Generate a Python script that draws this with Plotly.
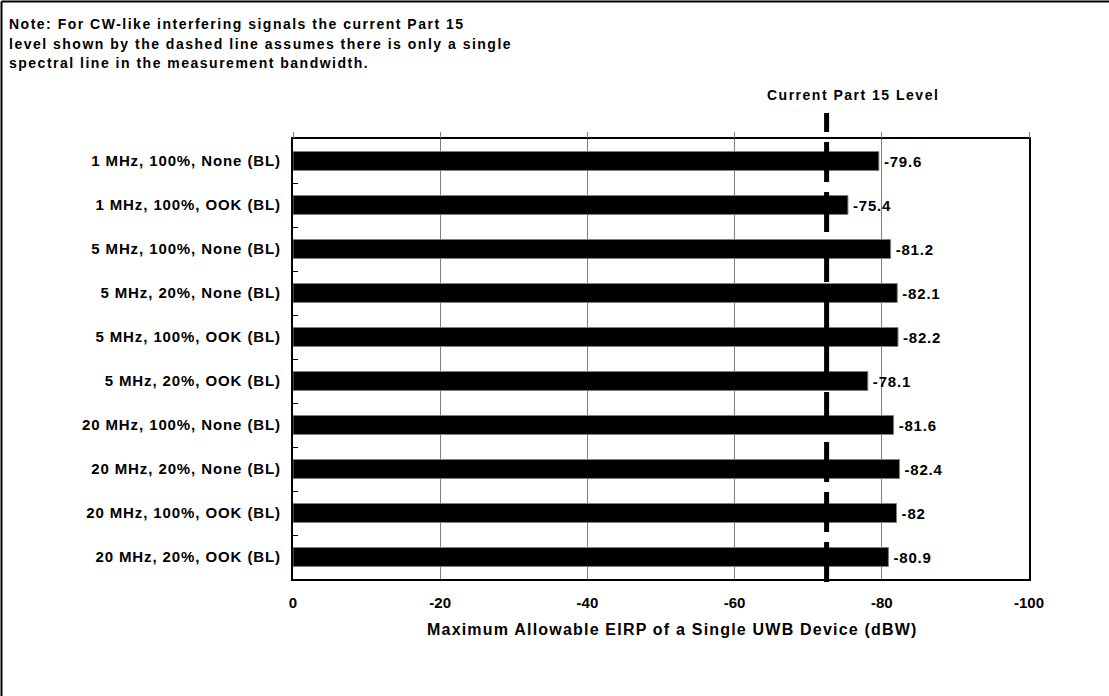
import plotly.graph_objects as go

# ---------------- data ----------------
CATEGORIES = [
    "1 MHz, 100%, None (BL)",
    "1 MHz, 100%, OOK (BL)",
    "5 MHz, 100%, None (BL)",
    "5 MHz, 20%, None (BL)",
    "5 MHz, 100%, OOK (BL)",
    "5 MHz, 20%, OOK (BL)",
    "20 MHz, 100%, None (BL)",
    "20 MHz, 20%, None (BL)",
    "20 MHz, 100%, OOK (BL)",
    "20 MHz, 20%, OOK (BL)",
]
VALUES = [-79.6, -75.4, -81.2, -82.1, -82.2, -78.1, -81.6, -82.4, -82.0, -80.9]
VALUE_LABELS = ["-79.6", "-75.4", "-81.2", "-82.1", "-82.2", "-78.1", "-81.6", "-82.4", "-82", "-80.9"]
PART15_LEVEL = -72.5
X_TICKS = [0, -20, -40, -60, -80, -100]
X_TICK_LABELS = ["0", "-20", "-40", "-60", "-80", "-100"]
X_TITLE = "Maximum Allowable EIRP of a Single UWB Device (dBW)"
PART15_LABEL = "Current Part 15 Level"
NOTE_LINES = [
    "Note: For CW-like interfering signals the current Part 15",
    "level shown by the dashed line assumes there is only a single",
    "spectral line in the measurement bandwidth.",
]

FONT = "Liberation Sans, Arial, Helvetica, sans-serif"


def spaced(s, px):
    return f'<span style="letter-spacing:{px}px">{s}</span>'


# plot area in pixels (for placing free text)
L, R, T, B = 293, 1029, 139, 579
W, H = 1109, 696


def px_x(x):
    return (x - L) / (R - L)


def px_y(y):
    return (B - y) / (B - T)


fig = go.Figure()
fig.add_trace(go.Bar(
    y=CATEGORIES, x=VALUES, orientation="h", width=0.43,
    marker=dict(color="black", line=dict(color="#7f7f7f", width=1)),
    text=[spaced("\u200a" + t, 0.8) for t in VALUE_LABELS], textposition="outside",
    textfont=dict(family=FONT, size=15, color="black", weight="bold"),
    cliponaxis=False, constraintext="none", hoverinfo="skip", showlegend=False,
))
# invisible trace so the top tick-mark axis is drawn
fig.add_trace(go.Scatter(x=[None], y=[None], xaxis="x2", yaxis="y",
                         mode="markers", showlegend=False, hoverinfo="skip"))

annotations = []
note_y = [23.5, 43.5, 63.5]
for line, yy in zip(NOTE_LINES, note_y):
    annotations.append(dict(
        text=spaced(line, 1.5), xref="paper", yref="paper",
        x=px_x(7), y=px_y(yy), xanchor="left", yanchor="middle",
        showarrow=False, align="left",
        font=dict(family=FONT, size=14, color="black", weight="bold"),
    ))
annotations.append(dict(
    text=spaced(PART15_LABEL, 1.5), xref="paper", yref="paper",
    x=px_x(852.5), y=px_y(95.4), xanchor="center", yanchor="middle",
    showarrow=False, font=dict(family=FONT, size=14, color="black", weight="bold"),
))
annotations.append(dict(
    text=spaced(X_TITLE, 1.2), xref="paper", yref="paper",
    x=px_x(672), y=px_y(629.5), xanchor="center", yanchor="middle",
    showarrow=False, font=dict(family=FONT, size=16, color="black", weight="bold"),
))

shapes = [
    # Part 15 dashed level line
    dict(type="line", xref="x", yref="paper", x0=PART15_LEVEL, x1=PART15_LEVEL,
         y0=px_y(582), y1=px_y(113), line=dict(color="black", width=5, dash="40px,10px"),
         layer="above"),
    # outer frame (left and top edges)
    dict(type="line", xref="paper", yref="paper", x0=px_x(1.5), x1=px_x(1.5),
         y0=px_y(W + 10), y1=px_y(1.5), line=dict(color="black", width=2)),
    dict(type="line", xref="paper", yref="paper", x0=px_x(1.5), x1=px_x(W + 10),
         y0=px_y(1.5), y1=px_y(1.5), line=dict(color="black", width=2)),
]

fig.update_layout(
    width=W, height=H,
    margin=dict(l=L, r=W - R, t=T, b=H - B, pad=0),
    paper_bgcolor="white", plot_bgcolor="white",
    showlegend=False,
    xaxis=dict(
        range=[0, -100], tickmode="array", tickvals=X_TICKS, ticktext=X_TICK_LABELS,
        showgrid=True, gridcolor="#808080", gridwidth=1, zeroline=False,
        showline=True, linecolor="black", linewidth=2, mirror=True,
        ticks="", ticklabelstandoff=9,
        tickfont=dict(family=FONT, size=15, color="black", weight="bold"),
    ),
    xaxis2=dict(
        overlaying="x", side="top", anchor="y", range=[0, -100], tickmode="array",
        tickvals=X_TICKS, ticks="outside", ticklen=6, tickwidth=1, tickcolor="#808080",
        showticklabels=False, showgrid=False, zeroline=False, showline=False,
    ),
    yaxis=dict(
        type="category", autorange="reversed",
        tickmode="array", tickvals=CATEGORIES, ticktext=[spaced(c, 0.9) for c in CATEGORIES],
        ticks="inside", tickson="boundaries", ticklen=5, tickwidth=1, tickcolor="black",
        showline=True, linecolor="black", linewidth=2, mirror=True, showgrid=False,
        ticklabelstandoff=7,
        tickfont=dict(family=FONT, size=15, color="black", weight="bold"),
    ),
    annotations=annotations,
    shapes=shapes,
)

fig.write_html("out.html", config={"displayModeBar": False},
               post_script="document.body.style.margin='0px';")
